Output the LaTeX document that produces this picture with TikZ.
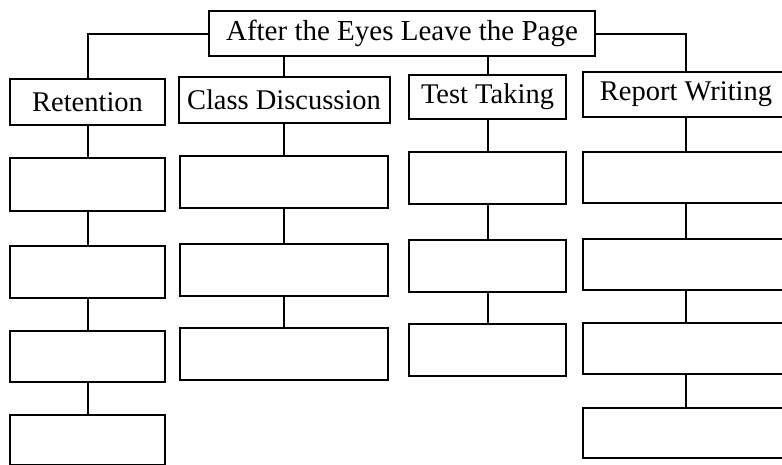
\documentclass[tikz,border=0pt]{standalone}
\usepackage{fontspec}
\setmainfont{Liberation Serif}
\tikzset{
  box/.style={draw, line width=2pt, inner sep=0pt, rectangle, anchor=center},
  titlebox/.style={box, font=\fontsize{29}{34}\selectfont},
  headbox/.style={box, font=\fontsize{28.5}{33}\selectfont},
  link/.style={line width=2pt},
}
\begin{document}
\begin{tikzpicture}[x=1pt,y=-1pt]
\useasboundingbox (0,0) rectangle (782,464);
\clip (0,0) rectangle (782,464);
% title
\node[titlebox, minimum width=386pt, minimum height=45pt] (title) at (402,33.5) {After the Eyes Leave the Page};
% headings
\node[headbox, minimum width=155pt, minimum height=46pt] (ret) at (87.5,102) {Retention};
\node[headbox, minimum width=211pt, minimum height=46pt] (cd) at (284,100) {Class Discussion};
\node[headbox, minimum width=157pt, minimum height=44pt] (tt) at (487.5,97) {Test Taking};
\node[headbox, minimum width=206pt, minimum height=45pt] (rw) at (686,94.5) {Report Writing};
% Retention column
\node[box, minimum width=155pt, minimum height=53pt] (r1) at (87.5,184.5) {};
\node[box, minimum width=155pt, minimum height=52pt] (r2) at (87.5,272) {};
\node[box, minimum width=155pt, minimum height=51pt] (r3) at (87.5,356.5) {};
\node[box, minimum width=155pt, minimum height=50pt] (r4) at (87.5,440) {};
% Class Discussion column
\node[box, minimum width=208pt, minimum height=52pt] (c1) at (284,182) {};
\node[box, minimum width=208pt, minimum height=52pt] (c2) at (284,270) {};
\node[box, minimum width=208pt, minimum height=52pt] (c3) at (284,354) {};
% Test Taking column
\node[box, minimum width=157pt, minimum height=52pt] (t1) at (487.5,178) {};
\node[box, minimum width=157pt, minimum height=52pt] (t2) at (487.5,266) {};
\node[box, minimum width=157pt, minimum height=52pt] (t3) at (487.5,350) {};
% Report Writing column
\node[box, minimum width=206pt, minimum height=51pt] (w1) at (686,177.5) {};
\node[box, minimum width=206pt, minimum height=51pt] (w2) at (686,264.5) {};
\node[box, minimum width=206pt, minimum height=51pt] (w3) at (686,348.5) {};
\node[box, minimum width=206pt, minimum height=50pt] (w4) at (686,433) {};
% connectors from title
\draw[link] (title.west) -| (ret.north);
\draw[link] (title.east) -| (rw.north);
\draw[link] (cd.north) -- (cd.north |- title.south);
\draw[link] (tt.north) -- (tt.north |- title.south);
% column connectors
\draw[link] (ret.south) -- (r1.north);
\draw[link] (r1.south) -- (r2.north);
\draw[link] (r2.south) -- (r3.north);
\draw[link] (r3.south) -- (r4.north);
\draw[link] (cd.south) -- (c1.north);
\draw[link] (c1.south) -- (c2.north);
\draw[link] (c2.south) -- (c3.north);
\draw[link] (tt.south) -- (t1.north);
\draw[link] (t1.south) -- (t2.north);
\draw[link] (t2.south) -- (t3.north);
\draw[link] (rw.south) -- (w1.north);
\draw[link] (w1.south) -- (w2.north);
\draw[link] (w2.south) -- (w3.north);
\draw[link] (w3.south) -- (w4.north);
\end{tikzpicture}
\end{document}
